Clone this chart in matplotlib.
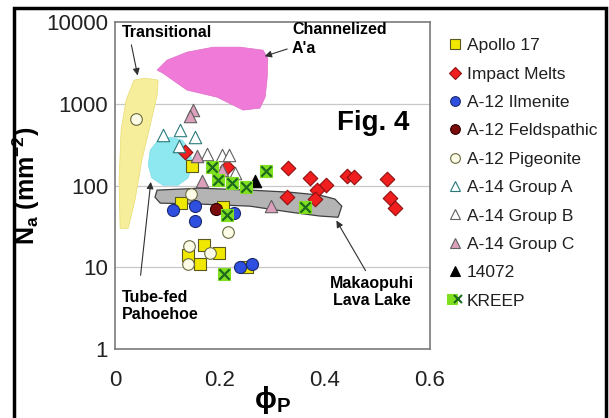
import matplotlib
matplotlib.use("Agg")
import matplotlib.pyplot as plt
from matplotlib.lines import Line2D
from matplotlib.patches import Polygon, Rectangle
from matplotlib.legend_handler import HandlerTuple
import numpy as np

plt.rcParams['font.family'] = ['Liberation Sans', 'DejaVu Sans']
plt.rcParams['mathtext.fontset'] = 'custom'
plt.rcParams['mathtext.rm'] = 'Liberation Sans'
plt.rcParams['mathtext.it'] = 'Liberation Sans'
plt.rcParams['mathtext.bf'] = 'Liberation Sans:bold'

# ---- data (phi_P, N_a) ----
apollo17_phi = [0.147, 0.126, 0.206, 0.170, 0.198, 0.139, 0.162, 0.251]
apollo17_n = [173, 61, 55, 19, 15, 14, 11, 10]

melts_phi = [0.133, 0.213, 0.330, 0.371, 0.442, 0.455, 0.518, 0.402, 0.385, 0.328, 0.381, 0.524, 0.533]
melts_n = [257, 168, 164, 124, 131, 127, 120, 101, 88, 72, 68, 70, 53]

ilmenite_phi = [0.110, 0.152, 0.152, 0.227, 0.238, 0.261]
ilmenite_n = [50, 56, 37, 46, 10, 11]

feldspathic_phi = [0.192]
feldspathic_n = [52]

pigeonite_phi = [0.040, 0.145, 0.215, 0.141, 0.181, 0.139]
pigeonite_n = [650, 79, 27, 18, 15, 11]

groupA_phi = [0.091, 0.124, 0.152, 0.122]
groupA_n = [415, 477, 392, 304]

groupB_phi = [0.175, 0.204, 0.217, 0.229]
groupB_n = [243, 236, 236, 142]

groupC_phi = [0.149, 0.143, 0.156, 0.166, 0.204, 0.297]
groupC_n = [839, 708, 230, 114, 155, 56]

s14072_phi = [0.267]
s14072_n = [114]

kreep_phi = [0.185, 0.196, 0.223, 0.250, 0.288, 0.362, 0.213, 0.208]
kreep_n = [168, 117, 107, 96, 150, 55, 44, 8.3]

# terrestrial flow fields (outline vertices)
transitional_phi = [0.0095, 0.0076, 0.0114, 0.021, 0.036, 0.057, 0.082, 0.080, 0.067, 0.051, 0.038, 0.025]
transitional_n = [30, 117, 478, 1111, 1953, 2065, 1953, 1280, 550, 205, 66.5, 30]

aa_phi = [0.080, 0.099, 0.137, 0.187, 0.238, 0.282, 0.291, 0.290, 0.286, 0.276, 0.244, 0.194, 0.137, 0.091]
aa_n = [2588, 3428, 4295, 4946, 4946, 4540, 3630, 2125, 1209, 887, 839, 1209, 1473, 2378]

tube_phi = [0.067, 0.082, 0.105, 0.128, 0.143, 0.147, 0.139, 0.120, 0.091, 0.070, 0.063]
tube_n = [272, 360, 392, 360, 272, 178, 124, 101, 101, 124, 178]

lake_phi = [0.080, 0.162, 0.257, 0.333, 0.390, 0.419, 0.432, 0.425, 0.390, 0.333, 0.257, 0.162, 0.086, 0.076]
lake_n = [88, 93, 88, 83, 76.5, 68.4, 56, 41, 42.4, 47.4, 56, 59.4, 61, 72]

fig = plt.figure(figsize=(6.09, 4.18), dpi=100)
ax = fig.add_axes([0.189, 0.165, 0.517, 0.782])

# fields
ax.add_patch(Polygon(np.column_stack([transitional_phi, transitional_n]), closed=True,
                     facecolor='#f6ee9a', edgecolor='#e8dc70', lw=0.5, zorder=1))
ax.add_patch(Polygon(np.column_stack([aa_phi, aa_n]), closed=True,
                     facecolor='#f07ad8', edgecolor='#e070c8', lw=0.5, zorder=1))
ax.add_patch(Polygon(np.column_stack([tube_phi, tube_n]), closed=True,
                     facecolor='#8ee8f0', edgecolor='#80dce8', lw=0.5, zorder=1))
ax.add_patch(Polygon(np.column_stack([lake_phi, lake_n]), closed=True,
                     facecolor='#b4b4b4', edgecolor='#404040', lw=0.9, zorder=1))

# samples
ms = dict(zorder=3, linewidths=0.8)
ax.scatter(apollo17_phi, apollo17_n, marker='s', s=70, facecolor='#f0e800', edgecolor='#5a5a20', **ms)
ax.scatter(melts_phi, melts_n, marker='D', s=55, facecolor='#f01e1e', edgecolor='#901010', **ms)
ax.scatter(ilmenite_phi, ilmenite_n, marker='o', s=75, facecolor='#2f4fe0', edgecolor='#1a2a70', **ms)
ax.scatter(feldspathic_phi, feldspathic_n, marker='o', s=75, facecolor='#7a0c0c', edgecolor='#300000', **ms)
ax.scatter(pigeonite_phi, pigeonite_n, marker='o', s=70, facecolor='#fbfbe6', edgecolor='#6a6a40', **ms)
ax.scatter(groupA_phi, groupA_n, marker='^', s=80, facecolor='white', edgecolor='#2a7a7a', **ms)
ax.scatter(groupB_phi, groupB_n, marker='^', s=80, facecolor='white', edgecolor='#606060', **ms)
ax.scatter(groupC_phi, groupC_n, marker='^', s=80, facecolor='#dca0bc', edgecolor='#606060', **ms)
ax.scatter(s14072_phi, s14072_n, marker='^', s=80, facecolor='black', edgecolor='black', **ms)
ax.scatter(kreep_phi, kreep_n, marker='s', s=80, facecolor='#80e020', edgecolor='#80e020', **ms)
ax.scatter(kreep_phi, kreep_n, marker='x', s=55, color='#1d6a1d', linewidths=1.6, zorder=4)

ax.set_yscale('log')
ax.set_xlim(0, 0.6)
ax.set_ylim(1, 10000)
ax.set_xticks([0, 0.2, 0.4, 0.6])
ax.set_xticklabels(['0', '0.2', '0.4', '0.6'])
ax.set_yticks([1, 10, 100, 1000, 10000])
ax.set_yticklabels(['1', '10', '100', '1000', '10000'])
ax.minorticks_off()
ax.tick_params(labelsize=16, colors='#222222', length=0)
ax.tick_params(axis='y', pad=5)
ax.tick_params(axis='x', pad=15)
for sp in ax.spines.values():
    sp.set_color('#7a7a7a')
    sp.set_linewidth(1.2)
for yv in [10, 100, 1000]:
    ax.axhline(yv, color='#c8c8c8', lw=0.9, zorder=0)

ax.set_ylabel(r'N$_\mathregular{a}$ (mm$^\mathregular{-2}$)', fontsize=18, fontweight='bold')
ax.yaxis.set_label_coords(-0.232, 0.5)
ax.set_xlabel(r'$\mathbf{\phi_P}$', fontsize=21, labelpad=-5)

# annotations
arw = dict(arrowstyle='-|>', color='#303030', lw=0.8, mutation_scale=10)
ax.text(0.013, 7550, 'Transitional', fontsize=11.5, fontweight='bold', va='center', ha='left')
ax.annotate('', xy=(0.044, 2065), xytext=(0.030, 5690), arrowprops=arw)
ax.text(0.337, 6195, "Channelized\nA'a", fontsize=11.5, fontweight='bold', va='center', ha='left',
        linespacing=1.3)
ax.annotate('', xy=(0.280, 3733), xytext=(0.333, 4808), arrowprops=arw)
ax.text(0.491, 581, 'Fig. 4', fontsize=20, fontweight='bold', va='center', ha='center')
ax.text(0.013, 3.36, 'Tube-fed\nPahoehoe', fontsize=11.5, fontweight='bold', va='center', ha='left',
        linespacing=1.15)
ax.annotate('', xy=(0.0686, 120), xytext=(0.048, 7.39), arrowprops=arw)
ax.text(0.49, 4.98, 'Makaopuhi\nLava Lake', fontsize=11.5, fontweight='bold', va='center', ha='center',
        linespacing=1.2)
ax.annotate('', xy=(0.419, 40), xytext=(0.48, 8.5), arrowprops=arw)

# legend
def mk(marker, fc, ec, size=7):
    return Line2D([], [], ls='none', marker=marker, markersize=size, markerfacecolor=fc,
                  markeredgecolor=ec, markeredgewidth=0.8)

kreep_handle = (mk('s', '#80e020', '#80e020', 7),
                Line2D([], [], ls='none', marker='x', markersize=6, color='#1d6a1d', markeredgewidth=1.5))
handles = [mk('s', '#f0e800', '#5a5a20'), mk('D', '#f01e1e', '#901010', 6),
           mk('o', '#2f4fe0', '#1a2a70'), mk('o', '#7a0c0c', '#300000'),
           mk('o', '#fbfbe6', '#6a6a40'), mk('^', 'white', '#2a7a7a'),
           mk('^', 'white', '#606060'), mk('^', '#dca0bc', '#606060'),
           mk('^', 'black', 'black'), kreep_handle]
labels = ['Apollo 17', 'Impact Melts', 'A-12 Ilmenite', 'A-12 Feldspathic', 'A-12 Pigeonite',
          'A-14 Group A', 'A-14 Group B', 'A-14 Group C', '14072', 'KREEP']
fig.legend(handles, labels, loc='upper left', bbox_to_anchor=(0.725, 0.925), frameon=False,
           fontsize=12.5, handlelength=0.7, handletextpad=0.35, labelspacing=0.76,
           borderaxespad=0, labelcolor='#202020',
           handler_map={tuple: HandlerTuple(ndivide=None, pad=0)})

# outer frame
fig.patches.append(Rectangle((0.023, -0.02), 0.972, 1.0, transform=fig.transFigure,
                             fill=False, edgecolor='black', lw=2.5))

fig.savefig('out.png', dpi=100)
